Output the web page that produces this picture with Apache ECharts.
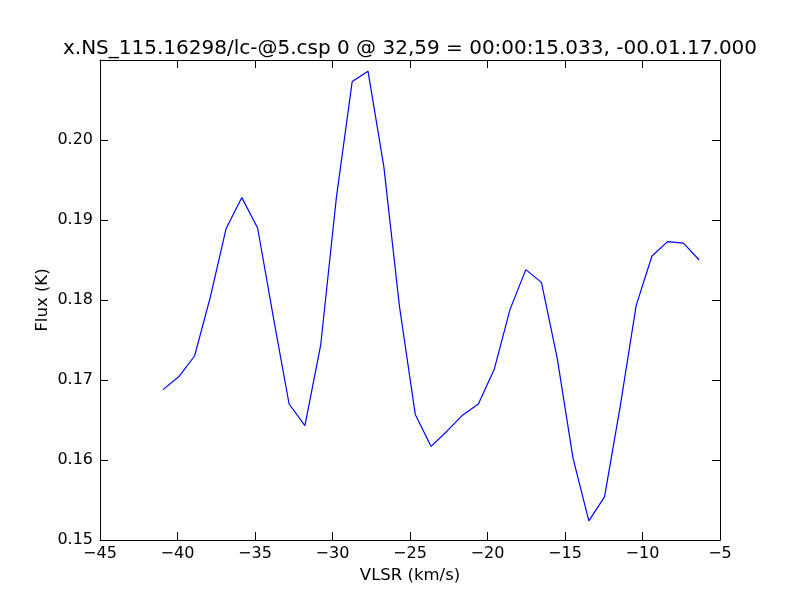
<!DOCTYPE html>
<html>
<head>
<meta charset="utf-8">
<script src="https://cdn.jsdelivr.net/npm/echarts@6/dist/echarts.min.js"></script>
<style>html,body{margin:0;padding:0;background:#fff}#c{width:800px;height:600px}</style>
</head>
<body>
<div id="c"></div>
<script>
const velocity = [-40.94, -39.92, -38.90, -37.89, -36.87, -35.85, -34.83, -33.82, -32.80, -31.78,
  -30.76, -29.75, -28.73, -27.71, -26.69, -25.68, -24.66, -23.64, -22.62, -21.61,
  -20.59, -19.57, -18.55, -17.53, -16.52, -15.50, -14.48, -13.46, -12.45, -11.43,
  -10.41, -9.39, -8.38, -7.36, -6.34];
const flux = [0.1688, 0.1704, 0.1730, 0.1803, 0.1889, 0.1928, 0.1890, 0.1779, 0.1670, 0.1643,
  0.1744, 0.1928, 0.2073, 0.2086, 0.1967, 0.1792, 0.1657, 0.1617, 0.1636, 0.1656,
  0.1670, 0.1713, 0.1788, 0.1838, 0.1822, 0.1727, 0.1602, 0.1524, 0.1554, 0.1668,
  0.1793, 0.1855, 0.1873, 0.1871, 0.1850];
const xTicks = [-45, -40, -35, -30, -25, -20, -15, -10, -5];
const yTicks = [0.15, 0.16, 0.17, 0.18, 0.19, 0.20];
const titleText = 'x.NS_115.16298/lc-@5.csp 0 @ 32,59 = 00:00:15.033, -00.01.17.000';

const font = 'DejaVu Sans';
const axisLine = {show: true, onZero: false, lineStyle: {color: '#000', width: 1}};
const tick = {show: true, inside: true, length: 8, lineStyle: {color: '#000', width: 1}};
const chart = echarts.init(document.getElementById('c'));
chart.setOption({
  animation: false,
  backgroundColor: '#fff',
  title: {text: titleText, left: 405, textAlign: 'center', top: 34,
    textStyle: {fontFamily: font, fontSize: 20, fontWeight: 'normal', color: '#000'}},
  grid: {left: 100, right: 80, top: 60, bottom: 60, show: false},
  xAxis: [{
    type: 'value', min: xTicks[0], max: xTicks[xTicks.length - 1], interval: 5,
    position: 'bottom', axisLine: axisLine, axisTick: tick, splitLine: {show: false},
    name: 'VLSR (km/s)', nameLocation: 'middle', nameGap: 26,
    nameTextStyle: {fontFamily: font, fontSize: 16.5, color: '#000'},
    axisLabel: {fontFamily: font, fontSize: 16, color: '#000', margin: 6,
      formatter: v => String(v).replace('-', '\u2212')}
  }, {
    type: 'value', min: xTicks[0], max: xTicks[xTicks.length - 1], interval: 5,
    position: 'top', axisLine: axisLine, axisTick: tick, splitLine: {show: false},
    axisLabel: {show: false}
  }],
  yAxis: [{
    type: 'value', min: yTicks[0], max: 0.21, interval: 0.01,
    position: 'left', axisLine: axisLine, axisTick: tick, splitLine: {show: false},
    name: 'Flux (K)', nameLocation: 'middle', nameGap: 57, nameRotate: 90,
    nameMoveOverlap: false,
    nameTextStyle: {fontFamily: font, fontSize: 16.5, color: '#000', verticalAlign: 'middle'},
    axisLabel: {fontFamily: font, fontSize: 16, color: '#000', margin: 7,
      formatter: v => (v > 0.205 ? '' : v.toFixed(2))}
  }, {
    type: 'value', min: yTicks[0], max: 0.21, interval: 0.01,
    position: 'right', axisLine: axisLine, axisTick: tick, splitLine: {show: false},
    axisLabel: {show: false}
  }],
  series: [{
    type: 'line', xAxisIndex: 0, yAxisIndex: 0,
    data: velocity.map((v, i) => [v, flux[i]]),
    showSymbol: false, symbol: 'none',
    lineStyle: {color: '#0000ff', width: 1.2}
  }]
});
</script>
</body>
</html>
